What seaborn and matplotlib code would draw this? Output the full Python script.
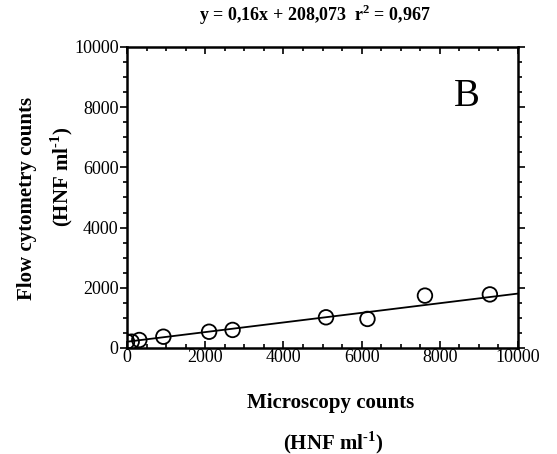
import matplotlib
matplotlib.use("Agg")
import matplotlib.pyplot as plt
import numpy as np
import seaborn as sns
from matplotlib.ticker import MultipleLocator

# microscopy vs flow cytometry counts (HNF ml-1)
microscopy = [0, 120, 315, 930, 2100, 2700, 5090, 6150, 7620, 9280]
flow_cytometry = [210, 210, 265, 375, 540, 600, 1020, 965, 1740, 1780]
slope = 0.16
intercept = 208.073
x_range = [0, 10000]

sns.set_theme(style="white")
plt.rcParams["font.family"] = ["Liberation Serif", "DejaVu Serif"]
plt.rcParams["mathtext.fontset"] = "custom"
plt.rcParams["mathtext.rm"] = "Liberation Serif"
plt.rcParams["mathtext.bf"] = "Liberation Serif:bold"
plt.rcParams["text.color"] = "black"
plt.rcParams["xtick.color"] = "black"
plt.rcParams["ytick.color"] = "black"

fig = plt.figure(figsize=(5.57, 4.54), dpi=100)
ax = fig.add_axes([0.228, 0.2335, 0.702, 0.663])

fit_x = np.array(x_range, dtype=float)
sns.lineplot(x=fit_x, y=slope * fit_x + intercept, ax=ax, color="black", lw=1.3)
sns.scatterplot(x=microscopy, y=flow_cytometry, ax=ax, s=110, facecolor="none",
                edgecolor="black", linewidth=1.3, zorder=3)

ax.set_xlim(0, 10000)
ax.set_ylim(0, 10000)
ax.xaxis.set_major_locator(MultipleLocator(2000))
ax.xaxis.set_minor_locator(MultipleLocator(500))
ax.yaxis.set_major_locator(MultipleLocator(2000))
ax.yaxis.set_minor_locator(MultipleLocator(500))
for s in ax.spines.values():
    s.set_color("black")
    s.set_linewidth(1.8)
ax.tick_params(which="both", top=True, right=True, bottom=True, left=True,
               direction="in", color="black", labelcolor="black", labelsize=13, pad=1)
ax.tick_params(axis="y", which="both", direction="out")
ax.tick_params(which="major", length=5, width=1.2)
ax.tick_params(which="minor", length=3, width=1.2)

ax.text(0.87, 0.834, "B", transform=ax.transAxes, fontsize=28, ha="center", va="center")

unit = r"(HNF ml$^{\mathbf{\text{-}1}}$)"
label_kw = dict(ha="center", va="center", fontsize=15, fontweight="bold")
fig.text(0.565, 0.967, r"y = 0,16x + 208,073  r$^{\mathbf{2}}$ = 0,967",
         ha="center", va="center", fontsize=13, fontweight="bold")
fig.text(0.048, 0.562, "Flow cytometry counts", rotation=90, **label_kw)
fig.text(0.111, 0.610, unit, rotation=90, **label_kw)
fig.text(0.594, 0.112, "Microscopy counts", **label_kw)
fig.text(0.598, 0.026, unit, **label_kw)

fig.savefig("out.png", dpi=100)
